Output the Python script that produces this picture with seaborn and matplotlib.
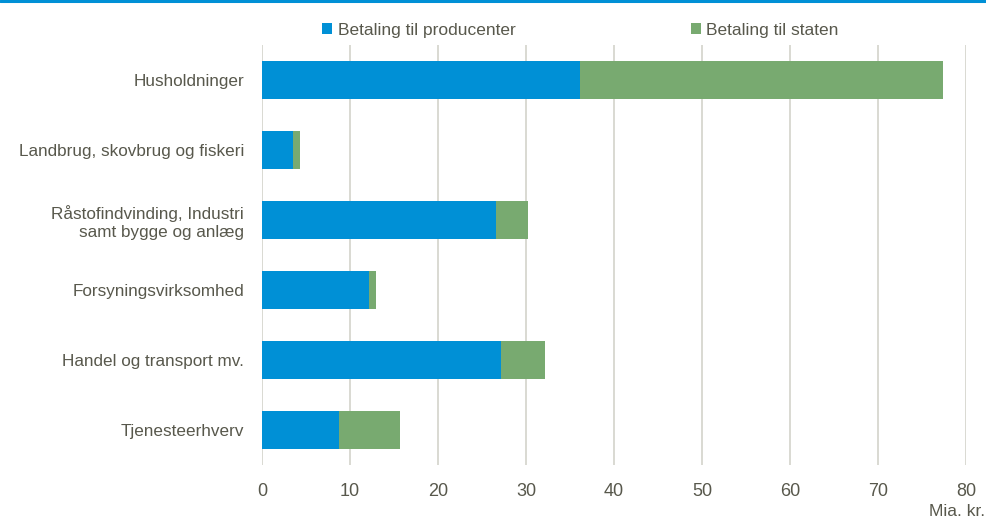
import matplotlib
matplotlib.use("Agg")
import matplotlib.pyplot as plt
import seaborn as sns
import pandas as pd
from matplotlib.patches import Patch
from matplotlib.lines import Line2D
from matplotlib import font_manager

categories = ["Husholdninger", "Landbrug, skovbrug og fiskeri",
              "Råstofindvinding, Industri\nsamt bygge og anlæg",
              "Forsyningsvirksomhed", "Handel og transport mv.", "Tjenesteerhverv"]
producenter = [36.1, 3.5, 26.6, 12.2, 27.2, 8.7]
staten = [41.3, 0.8, 3.6, 0.7, 5.0, 7.0]
xticks = [0, 10, 20, 30, 40, 50, 60, 70, 80]
series_names = ["Betaling til producenter", "Betaling til staten"]
xlabel = "Mia. kr."

BLUE = "#0090D6"
GREEN = "#78AA70"
TEXT = "#58584c"
GRID = "#d3d3cb"

sns.set_theme(style="white")
avail = {f.name for f in font_manager.fontManager.ttflist}
fam = "Liberation Sans Narrow" if "Liberation Sans Narrow" in avail else "Liberation Sans"
plt.rcParams["font.family"] = [fam, "DejaVu Sans"]

df = pd.DataFrame({"cat": categories, "prod": producenter, "stat": staten})
df["total"] = df["prod"] + df["stat"]

fig = plt.figure(figsize=(9.87, 5.19), dpi=100)
ax = fig.add_axes([262/987, 1-465/519, (966-262)/987, (465-45)/519])

sns.barplot(data=df, x="total", y="cat", color=GREEN, width=0.55, ax=ax,
            saturation=1, edgecolor="none", zorder=3)
sns.barplot(data=df, x="prod", y="cat", color=BLUE, width=0.55, ax=ax,
            saturation=1, edgecolor="none", zorder=4)

ax.set_xlim(0, 80)
ax.set_xticks(xticks)
ax.set_xticklabels([str(t) for t in xticks])
ax.xaxis.grid(True, color=GRID, lw=1.2, zorder=0)
ax.yaxis.grid(False)
for s in ax.spines.values():
    s.set_visible(False)
ax.tick_params(axis="x", length=0, pad=13, labelsize=13, labelcolor=TEXT)
ax.tick_params(axis="y", length=0, pad=13, labelsize=12.3, labelcolor=TEXT)
for lbl in ax.get_yticklabels():
    lbl.set_horizontalalignment("right")
    lbl.set_multialignment("right")
ax.set_xlabel("")
ax.set_ylabel("")

fig.text(985/987, 1-512/519, xlabel, ha="right", va="center", fontsize=12.5, color=TEXT)

handles = [Patch(facecolor=BLUE, edgecolor="none"), Patch(facecolor=GREEN, edgecolor="none")]
leg = fig.legend(handles, series_names, loc="center left", bbox_to_anchor=(322/987, 1-30/519),
                 ncol=2, frameon=False, fontsize=12.5, handlelength=0.6, handleheight=0.6,
                 handletextpad=0.3, columnspacing=10.1, borderaxespad=0, borderpad=0)
for t in leg.get_texts():
    t.set_color(TEXT)

fig.add_artist(Line2D([0, 1], [1-1/519, 1-1/519], color=BLUE, lw=2.2, transform=fig.transFigure))

fig.savefig("out.png", dpi=100)
